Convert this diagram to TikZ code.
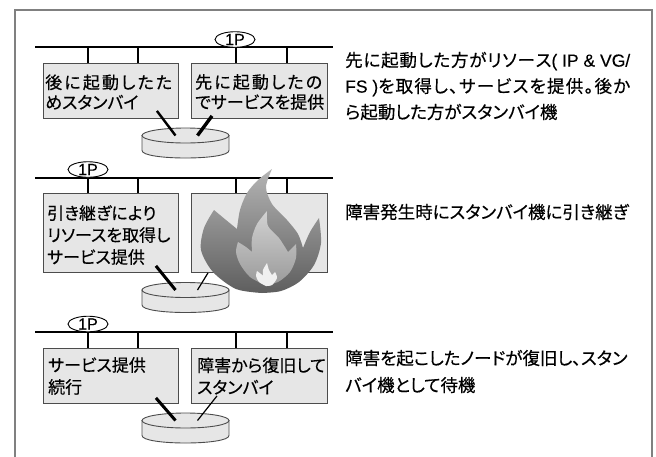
\documentclass[tikz,border=0pt]{standalone}
\usepackage{fontspec}
\setmainfont{Noto Sans CJK JP}[RawFeature=+palt, FakeBold=0.4]
\newfontfamily\latin{Liberation Sans}[FakeBold=0.25]
\usetikzlibrary{calc,shapes.geometric}

\definecolor{boxfill}{HTML}{E6E6E6}
\definecolor{diskfill}{HTML}{E6E6E6}
\definecolor{edgegray}{HTML}{4C4C4C}
\definecolor{framegray}{HTML}{808080}
\definecolor{flameTop}{HTML}{B4B4B4}
\definecolor{flameBot}{HTML}{5E5E5E}
\definecolor{innerTop}{HTML}{D2D2D2}
\definecolor{innerBot}{HTML}{9A9A9A}

\tikzset{
  host/.style={draw=edgegray, fill=boxfill, line width=0.9pt, inner sep=0pt,
    anchor=north west, minimum width=135pt},
  bus/.style={line width=2pt},
  tap/.style={line width=1.5pt},
  link/.style={line width=3pt},
  thinlink/.style={line width=1.2pt},
  vip/.style={ellipse, draw, fill=white, line width=0.9pt, inner sep=0pt,
    minimum width=40pt, minimum height=15.5pt,
    font=\latin\fontsize{16}{16}\selectfont},
  boxtext/.style={align=left, inner sep=0pt, anchor=west},
  note/.style={align=left, inner sep=0pt, anchor=west},
  storage/.pic={
    \filldraw[draw=edgegray, fill=diskfill, line width=0.9pt]
      (-43.5,0) -- (-43.5,15) .. controls (-43.5,25) and (43.5,25) .. (43.5,15)
      -- (43.5,0) -- cycle;
    \filldraw[draw=edgegray, fill=diskfill, line width=0.9pt]
      (0,0) ellipse [x radius=43.5, y radius=7.5];
    \coordinate (-inL) at (-10,0);
    \coordinate (-inR) at (12,0);
  }
}

\begin{document}
\begin{tikzpicture}[x=1pt,y=-1pt]
\useasboundingbox (0,0) rectangle (656,456);
\clip (0,0) rectangle (656,456);
\draw[framegray, line width=1.5pt] (15,10) rectangle (652,480);

% ---------- stage 1: both nodes started ----------
\draw[bus] (35,47) -- (333,47);
\node[host, minimum height=55pt] (h1L) at (43,63) {};
\node[host, minimum height=55pt, minimum width=136pt] (h1R) at (191,63) {};
\foreach \x/\n in {88/a,138/b,236/c,287/d}{
  \coordinate (t1\n) at (\x,47);
  \draw[tap] (t1\n) -- (t1\n |- h1L.north);
}
\node[boxtext, font=\fontsize{17}{20}\selectfont] (x1L) at (45,92)
  {\makebox[127pt][s]{後\hfill に\hfill 起\hfill 動\hfill し\hfill た\hfill た}\\めスタンバイ};
\node[boxtext, font=\fontsize{17}{20}\selectfont] (x1R) at (195,92)
  {\makebox[127pt][s]{先\hfill に\hfill 起\hfill 動\hfill し\hfill た\hfill の}\\でサービスを提供};
\pic (d1) at (185.5,135.5) {storage};
\coordinate (a1L) at ($(h1L.south east)+(-22,-8)$);
\coordinate (a1R) at ($(h1R.south west)+(21,-3)$);
\draw[line width=2.4pt] (a1L) -- (d1-inL);
\draw[line width=3.4pt] (a1R) -- (d1-inR);
\node[vip] (ip1) at (235,39.5) {1P};
\node[note, font=\fontsize{17.5}{26}\selectfont] (n1) at (345,86)
  {\makebox[285pt][s]{先\hfil に\hfil 起\hfil 動\hfil し\hfil た\hfil 方\hfil が\hfil
     リ\hfil ソ\hfil ー\hfil ス{\latin(\ IP\ \&\ VG/}}\\
   \makebox[285pt][s]{{\latin FS\ )}を\hfil 取\hfil 得\hfil し\hfil 、\hfil サ\hfil ー\hfil
     ビ\hfil ス\hfil を\hfil 提\hfil 供\hfil 。\hfil 後\hfil か}\\
   ら起動した方がスタンバイ機};

% ---------- stage 2: failover ----------
\draw[bus] (35,178) -- (333,178);
\node[host, minimum height=79pt] (h2L) at (43,193) {};
\node[host, minimum height=79pt, minimum width=136pt] (h2R) at (191,193) {};
\foreach \x/\n in {88/a,138/b,236/c,287/d}{
  \coordinate (t2\n) at (\x,178);
  \draw[tap] (t2\n) -- (t2\n |- h2L.north);
}
\node[boxtext, font=\fontsize{17}{22}\selectfont] (x2L) at (47,235)
  {引き継ぎにより\\リソースを取得し\\サービス提供};
\pic (d2) at (185.5,290) {storage};
\coordinate (a2L) at ($(h2L.south east)+(-23,-7)$);
\coordinate (a2R) at ($(h2R.south west)+(17,0)$);
\draw[link] (a2L) -- (d2-inL);
\draw[thinlink] (a2R) -- (d2-inR);
\node[vip] (ip2) at (88,169.5) {1P};
\node[note, font=\fontsize{17.5}{26}\selectfont] (n2) at (345,212)
  {障害発生時にスタンバイ機に引き継ぎ};

% flame over the failed node
\shade[top color=flameTop, bottom color=flameBot]
  plot[smooth] coordinates {(262,293) (236,289) (213,272) (201,250) (204,228) (214,210)}
  -- plot[smooth] coordinates {(214,210) (226,220) (237,229)}
  -- plot[smooth] coordinates {(237,229) (240,210) (247,193) (258,180) (272,169)}
  -- plot[smooth] coordinates {(272,169) (266,187) (272,204) (287,220) (298,234) (303,248)}
  -- plot[smooth] coordinates {(303,248) (310,232) (319,218)}
  -- plot[smooth] coordinates {(319,218) (321,243) (314,265) (299,282) (281,291) (262,293)}
  -- cycle;
\shade[top color=innerTop, bottom color=innerBot]
  plot[smooth] coordinates {(265,285) (250,277) (240,264) (236,252) (238,242)}
  -- plot[smooth] coordinates {(238,242) (246,247) (252,252)}
  -- plot[smooth] coordinates {(252,252) (252,238) (257,224) (267,211)}
  -- plot[smooth] coordinates {(267,211) (268,226) (279,238) (288,252)}
  -- plot[smooth] coordinates {(288,252) (296,244)}
  -- plot[smooth] coordinates {(296,244) (296,258) (290,272) (278,282) (265,285)}
  -- cycle;
\fill[white!94!black]
  plot[smooth] coordinates {(266,286) (259,282) (256,276) (257,271)}
  -- plot[smooth] coordinates {(257,271) (261,274) (263,276)}
  -- plot[smooth] coordinates {(263,276) (263,270) (267,263)}
  -- plot[smooth] coordinates {(267,263) (269,270) (272,275)}
  -- plot[smooth] coordinates {(272,275) (275,272)}
  -- plot[smooth] coordinates {(275,272) (277,278) (272,285) (266,286)}
  -- cycle;

% ---------- stage 3: recovered node on standby ----------
\draw[bus] (35,332) -- (333,332);
\node[host, minimum height=55pt] (h3L) at (43,348) {};
\node[host, minimum height=55pt, minimum width=136pt] (h3R) at (191,348) {};
\foreach \x/\n in {88/a,138/b,236/c,287/d}{
  \coordinate (t3\n) at (\x,332);
  \draw[tap] (t3\n) -- (t3\n |- h3L.north);
}
\node[boxtext, font=\fontsize{17}{22}\selectfont] (x3L) at (48,376)
  {サービス提供\\続行};
\node[boxtext, font=\fontsize{17}{22}\selectfont] (x3R) at (197,376)
  {障害から復旧して\\スタンバイ};
\pic (d3) at (185.5,420.5) {storage};
\coordinate (a3L) at ($(h3L.south east)+(-23,-6)$);
\coordinate (a3R) at ($(h3R.south west)+(26,-8)$);
\draw[link] (a3L) -- (d3-inL);
\draw[thinlink] (a3R) -- (d3-inR);
\node[vip] (ip3) at (88,324) {1P};
\node[note, font=\fontsize{17.5}{27}\selectfont] (n3) at (345,371.5)
  {障害を起こしたノードが復旧し、スタン\\バイ機として待機};
\end{tikzpicture}
\end{document}
